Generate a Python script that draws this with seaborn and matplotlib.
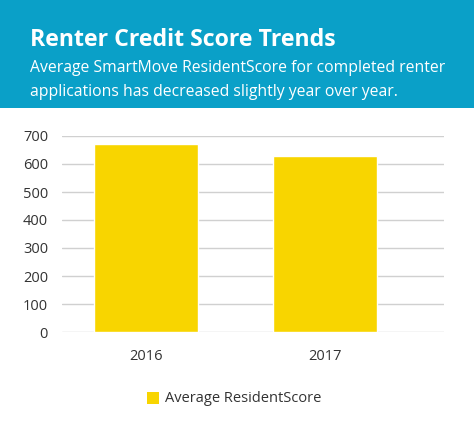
import matplotlib
matplotlib.use("Agg")
import matplotlib.pyplot as plt
import seaborn as sns
import pandas as pd
from matplotlib.patches import Rectangle

years = ["2016", "2017"]
scores = [670, 629]
series_name = "Average ResidentScore"

sns.set_theme(style="white")
plt.rcParams['font.family'] = ['Open Sans', 'DejaVu Sans']

fig = plt.figure(figsize=(4.74, 4.38), dpi=100)
fig.patch.set_facecolor("white")

# teal header band
fig.patches.append(Rectangle((0, 1 - 108 / 438), 1, 108 / 438, transform=fig.transFigure,
                             facecolor="#0aa0c8", edgecolor="none", zorder=0))
fig.text(30 / 474, 1 - 40 / 438, "Renter Credit Score Trends", color="white",
         fontsize=16.7, fontweight="bold", va="center", ha="left")
fig.text(30 / 474, 1 - 68 / 438, "Average SmartMove ResidentScore for completed renter",
         color="white", fontsize=11.3, va="center", ha="left")
fig.text(30 / 474, 1 - 92 / 438, "applications has decreased slightly year over year.",
         color="white", fontsize=11.3, va="center", ha="left")

ax = fig.add_axes([62 / 474, 1 - 332 / 438, (444 - 62) / 474, (332 - 136) / 438])
df = pd.DataFrame({"year": years, "score": scores})
sns.barplot(data=df, x="year", y="score", color="#f8d500", saturation=1,
            width=0.58, ax=ax, zorder=3)
ax.set_xlim(-0.47, 1.665)
ax.set_ylim(0, 700)
ax.set_yticks(range(0, 701, 100))
ax.yaxis.grid(True, color="#d0d0d0", linewidth=1, zorder=0)
ax.set_axisbelow(True)
for s in ax.spines.values():
    s.set_visible(False)
ax.set_xlabel("")
ax.set_ylabel("")
ax.tick_params(axis="both", length=0, labelsize=10.5, colors="#333333")
ax.tick_params(axis="x", pad=12)
ax.tick_params(axis="y", pad=10)

# legend
fig.patches.append(Rectangle((147 / 474, 1 - 404 / 438), 12 / 474, 12 / 438,
                             transform=fig.transFigure, facecolor="#f8d500", edgecolor="none"))
fig.text(165 / 474, 1 - 398 / 438, series_name, fontsize=10.5, color="#333333",
         va="center", ha="left")

fig.savefig("out.png", dpi=100)
